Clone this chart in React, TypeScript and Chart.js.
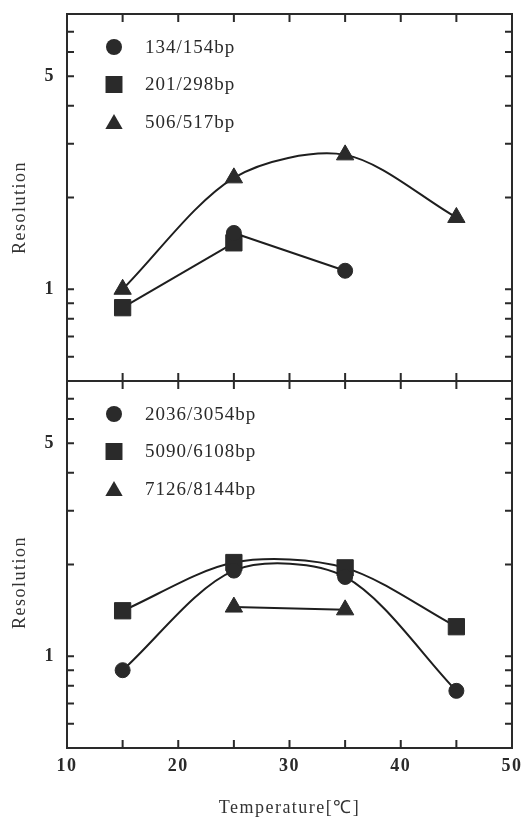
import React, { useEffect, useRef } from 'react';
import { Chart, registerables } from 'chart.js';

Chart.register(...registerables);

// ---- data ----
const temperatures = [15, 25, 35, 45];

const topLabels = ['134/154bp', '201/298bp', '506/517bp'];
const res134_154 = [null, 1.53, 1.15, null];
const res201_298 = [0.87, 1.42, null, null];
const res506_517 = [1.0, 2.32, 2.76, 1.72];

const bottomLabels = ['2036/3054bp', '5090/6108bp', '7126/8144bp'];
const res2036_3054 = [0.9, 1.91, 1.82, 0.77];
const res5090_6108 = [1.41, 2.03, 1.95, 1.25];
const res7126_8144 = [null, 1.45, 1.42, null];

const xTickValues = [10, 15, 20, 25, 30, 35, 40, 45, 50];
const xLabelValues = [10, 20, 30, 40, 50];
const yTickValues = [0.5, 0.6, 0.7, 0.8, 0.9, 1, 2, 3, 4, 5, 6, 7, 8];
const yLabelValues = [1, 5];

const xTitle = 'Temperature[℃]';
const yTitle = 'Resolution';

// ---- styles ----
const FONT = "'Liberation Serif', serif";
const INK = '#2a2a2a';

type Pt = { x: number; y: number };
const toPoints = (vals: (number | null)[]): Pt[] =>
  temperatures
    .map((t, i) => (vals[i] == null ? null : { x: t, y: vals[i] as number }))
    .filter((p): p is Pt => p !== null);

const markerRadius: Record<string, number> = { circle: 7.5, rect: 11.5, triangle: 10 };

const makeDataset = (
  label: string,
  vals: (number | null)[],
  style: 'circle' | 'rect' | 'triangle',
  yAxisID: string,
  tension: number
) => ({
  label,
  data: toPoints(vals),
  yAxisID,
  pointStyle: style,
  pointRadius: markerRadius[style],
  pointHoverRadius: markerRadius[style],
  pointBackgroundColor: INK,
  pointBorderColor: INK,
  pointBorderWidth: 1,
  borderColor: '#1e1e1e',
  backgroundColor: INK,
  borderWidth: 2,
  tension,
  fill: false,
});

function drawMarker(ctx: CanvasRenderingContext2D, style: string, x: number, y: number, r: number) {
  ctx.beginPath();
  if (style === 'circle') {
    ctx.arc(x, y, r, 0, Math.PI * 2);
  } else if (style === 'rect') {
    const s = Math.SQRT1_2 * r;
    ctx.rect(x - s, y - s, 2 * s, 2 * s);
  } else {
    ctx.moveTo(x, y - r);
    ctx.lineTo(x + 0.866 * r, y + 0.5 * r);
    ctx.lineTo(x - 0.866 * r, y + 0.5 * r);
    ctx.closePath();
  }
  ctx.fill();
}

const panelTitleShift: Record<string, number> = { yTop: 10, yBottom: 18 };

const framePlugin = {
  id: 'framePlugin',
  beforeDraw(chart: any) {
    chart.ctx.letterSpacing = '1.5px';
  },
  afterDraw(chart: any) {
    const ctx: CanvasRenderingContext2D = chart.ctx;
    const xs = chart.scales.x;
    ctx.save();
    ctx.strokeStyle = INK;
    ctx.lineWidth = 2;
    for (const id of ['yTop', 'yBottom']) {
      const ys = chart.scales[id];
      ctx.strokeRect(xs.left, ys.top, xs.right - xs.left, ys.bottom - ys.top);
      ctx.beginPath();
      xTickValues.forEach((v) => {
        const px = xs.getPixelForValue(v);
        ctx.moveTo(px, ys.top);
        ctx.lineTo(px, ys.top + 8);
        ctx.moveTo(px, ys.bottom);
        ctx.lineTo(px, ys.bottom - 8);
      });
      yTickValues.forEach((v) => {
        const py = ys.getPixelForValue(v);
        ctx.moveTo(xs.left, py);
        ctx.lineTo(xs.left + 7, py);
        ctx.moveTo(xs.right, py);
        ctx.lineTo(xs.right - 7, py);
      });
      ctx.stroke();

      // axis title for this panel
      ctx.save();
      ctx.fillStyle = '#333';
      ctx.font = `18px ${FONT}`;
      ctx.letterSpacing = '1.5px';
      ctx.textAlign = 'center';
      ctx.textBaseline = 'middle';
      ctx.translate(20, (ys.top + ys.bottom) / 2 + panelTitleShift[id]);
      ctx.rotate(-Math.PI / 2);
      ctx.fillText(yTitle, 0, 0);
      ctx.restore();

      // panel legend
      const dsIdx = chart.data.datasets
        .map((d: any, i: number) => (d.yAxisID === id ? i : -1))
        .filter((i: number) => i >= 0);
      ctx.fillStyle = INK;
      ctx.font = `19px ${FONT}`;
      ctx.letterSpacing = '1px';
      ctx.textBaseline = 'middle';
      ctx.textAlign = 'left';
      dsIdx.forEach((di: number, row: number) => {
        const d = chart.data.datasets[di];
        const cy = ys.top + 33 + row * 37.5;
        const cx = xs.left + 47;
        const r = d.pointStyle === 'circle' ? 8 : d.pointStyle === 'rect' ? 12 : 10;
        drawMarker(ctx, d.pointStyle, cx, d.pointStyle === 'triangle' ? cy + 2 : cy, r);
        ctx.fillText(d.label, xs.left + 78, cy + 1);
      });
    }
    ctx.restore();
  },
};

const yScale = () => ({
  type: 'logarithmic' as const,
  position: 'left' as const,
  stack: 'panels',
  stackWeight: 1,
  min: 0.5,
  max: 8,
  afterBuildTicks: (s: any) => {
    s.ticks = yTickValues.map((v) => ({ value: v }));
  },
  afterFit: (s: any) => {
    s.width = 67;
    s.paddingTop = 0;
    s.paddingBottom = 0;
  },
  grid: { display: false, drawTicks: false },
  border: { display: false },
  ticks: {
    autoSkip: false,
    padding: 12,
    color: INK,
    font: { family: FONT, size: 18, weight: 'bold' as const },
    callback: (v: any) => (yLabelValues.includes(Number(v)) ? String(v) : ''),
  },
  title: { display: false },
});

export default function App() {
  const canvasRef = useRef<HTMLCanvasElement | null>(null);

  useEffect(() => {
    if (!canvasRef.current) return;
    const chart = new Chart(canvasRef.current, {
      type: 'line',
      data: {
        datasets: [
          makeDataset(topLabels[0], res134_154, 'circle', 'yTop', 0),
          makeDataset(topLabels[1], res201_298, 'rect', 'yTop', 0),
          makeDataset(topLabels[2], res506_517, 'triangle', 'yTop', 0.3),
          makeDataset(bottomLabels[0], res2036_3054, 'circle', 'yBottom', 0.3),
          makeDataset(bottomLabels[1], res5090_6108, 'rect', 'yBottom', 0.3),
          makeDataset(bottomLabels[2], res7126_8144, 'triangle', 'yBottom', 0),
        ] as any,
      },
      options: {
        animation: false,
        responsive: false,
        maintainAspectRatio: false,
        layout: { padding: { top: 14, right: 13, left: 0, bottom: 0 } },
        plugins: { legend: { display: false }, tooltip: { enabled: false } },
        scales: {
          x: {
            type: 'linear',
            min: 10,
            max: 50,
            afterBuildTicks: (s: any) => {
              s.ticks = xTickValues.map((v) => ({ value: v }));
            },
            afterFit: (s: any) => {
              s.height = 71;
              s.paddingLeft = 0;
              s.paddingRight = 0;
            },
            grid: { display: false, drawTicks: false },
            border: { display: false },
            ticks: {
              autoSkip: false,
              maxRotation: 0,
              padding: 8,
              color: INK,
              font: { family: FONT, size: 18, weight: 'bold' },
              callback: (v: any) => (xLabelValues.includes(Number(v)) ? String(v) : ''),
            },
            title: {
              display: true,
              text: xTitle,
              color: '#333',
              font: { family: FONT, size: 18 },
              padding: { top: 0, bottom: 0 },
            },
          },
          yBottom: yScale(),
          yTop: yScale(),
        } as any,
      },
      plugins: [framePlugin],
    });
    return () => chart.destroy();
  }, []);

  return (
    <div style={{ position: 'absolute', left: 0, top: 0, width: 525, height: 819, background: '#fff' }}>
      <canvas ref={canvasRef} width={525} height={819} style={{ display: 'block' }} />
    </div>
  );
}
